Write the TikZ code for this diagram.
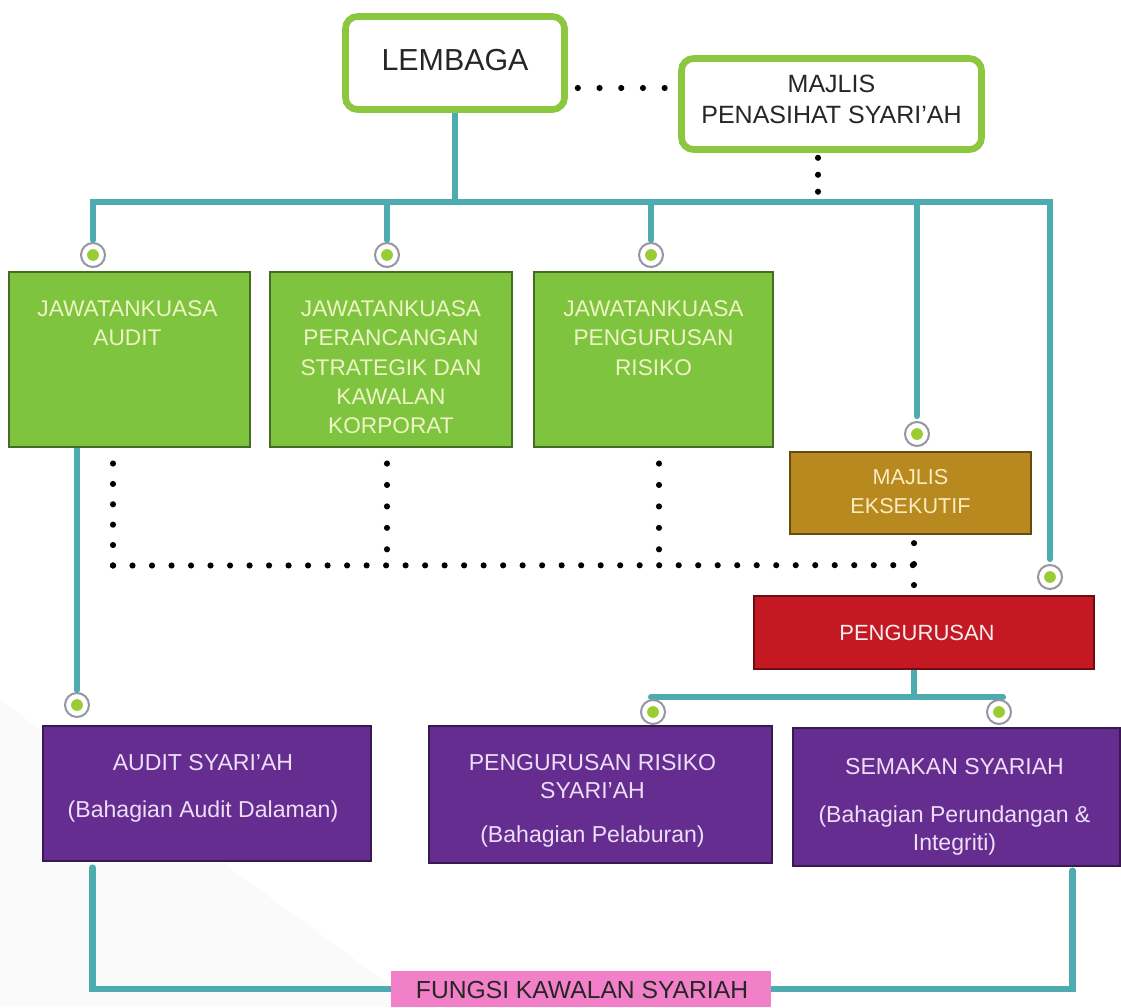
\documentclass[tikz,border=0pt]{standalone}
\usepackage{fontspec}
\setmainfont{Liberation Sans}
\usetikzlibrary{positioning, calc, fit, backgrounds, shadows}

\definecolor{tealline}{RGB}{78,172,176}
\definecolor{limeedge}{RGB}{141,198,63}
\definecolor{boxgreen}{RGB}{127,196,63}
\definecolor{greentext}{RGB}{238,244,196}
\definecolor{goldbox}{RGB}{184,137,30}
\definecolor{goldtext}{RGB}{250,236,190}
\definecolor{redbox}{RGB}{196,24,34}
\definecolor{purplebox}{RGB}{102,45,145}
\definecolor{lavender}{RGB}{236,222,246}
\definecolor{pinkbox}{RGB}{242,128,200}
\definecolor{knobgray}{RGB}{150,150,162}
\definecolor{knobgreen}{RGB}{153,204,51}

\begin{document}
\begin{tikzpicture}[x=0.75pt, y=-0.75pt,
    tline/.style={draw=tealline, line width=4.6pt, line cap=round},
    dotline/.style={line width=4.6pt, line cap=round, dash pattern=on 0pt off #1},
    dotline/.default=14pt,
    topbox/.style={draw=limeedge, line width=5pt, rounded corners=9pt, fill=white, inner sep=0pt,
        drop shadow={opacity=0.18, shadow xshift=1pt, shadow yshift=-1.5pt}},
    flatbox/.style={draw=#1!55!black, line width=0.8pt, fill=#1, inner sep=0pt},
    knob/.style={circle, draw=knobgray, line width=1.5pt, fill=white, minimum size=18pt, inner sep=0pt,
        path picture={\fill[knobgreen] (path picture bounding box.center) circle (4.4pt);}},
    boxtext/.style={inner sep=0pt, align=center}
]
    \useasboundingbox (0,0) rectangle (1121,1007);

    % Board and shariah council
    \node[topbox, fit={(345.5,16.5) (564.5,109.5)}] (lem) {};
    \node[topbox, fit={(681.5,58.5) (981.5,149.5)}] (mps) {};
    \node[boxtext, text=black!85, font=\fontsize{22.8pt}{27pt}\selectfont] (lemt) at ($(lem.center)+(0,-3)$) {LEMBAGA};
    \node[boxtext, text=black!85, font=\fontsize{18.75pt}{23.25pt}\selectfont] (mpst) at ($(mps.center)+(0,-4.5)$) {MAJLIS\\PENASIHAT SYARI'AH};

    % Committees
    \node[flatbox=boxgreen, fit={(9,272) (250,447)}] (jka) {};
    \node[flatbox=boxgreen, fit={(270,272) (512,447)}] (jkp) {};
    \node[flatbox=boxgreen, fit={(534,272) (773,447)}] (jkr) {};
    \node[boxtext, anchor=north, text=greentext, font=\fontsize{17pt}{22pt}\selectfont] (jkat) at ($(jka.north)+(-2,29)$) {JAWATANKUASA\\AUDIT};
    \node[boxtext, anchor=north, text=greentext, font=\fontsize{17pt}{22pt}\selectfont] (jkpt) at ($(jkp.north)+(0,29)$) {JAWATANKUASA\\PERANCANGAN\\STRATEGIK DAN\\KAWALAN\\KORPORAT};
    \node[boxtext, anchor=north, text=greentext, font=\fontsize{17pt}{22pt}\selectfont] (jkrt) at ($(jkr.north)+(0,29)$) {JAWATANKUASA\\PENGURUSAN\\RISIKO};

    % Executive council and management
    \node[flatbox=goldbox, fit={(790,452) (1031,534)}] (mek) {};
    \node[boxtext, text=goldtext, font=\fontsize{16.2pt}{21.75pt}\selectfont] (mekt) at ($(mek.center)+(0,-1.5)$) {MAJLIS\\EKSEKUTIF};
    \node[flatbox=redbox, fit={(754,596) (1094,669)}] (peng) {};
    \node[boxtext, text=white!92!redbox, font=\fontsize{16.5pt}{20pt}\selectfont] (pengt) at ($(peng.center)+(-7,0)$) {PENGURUSAN};

    % Shariah functions
    \node[flatbox=purplebox, fit={(43,726) (371,861)}] (aud) {};
    \node[flatbox=purplebox, fit={(429,726) (772,863)}] (prs) {};
    \node[flatbox=purplebox, fit={(793,728) (1120,866)}] (sem) {};
    \node[boxtext, anchor=north, text=lavender, font=\fontsize{17.3pt}{21pt}\selectfont] (audt) at ($(aud.north)+(-4,28.7)$) {AUDIT SYARI'AH\\[14pt](Bahagian Audit Dalaman)};
    \node[boxtext, anchor=north, text=lavender, font=\fontsize{17.3pt}{21pt}\selectfont] (prst) at ($(prs.north)+(-8,28.7)$) {PENGURUSAN RISIKO\\SYARI'AH\\[12pt](Bahagian Pelaburan)};
    \node[boxtext, anchor=north, text=lavender, font=\fontsize{17.3pt}{21pt}\selectfont] (semt) at ($(sem.north)+(-2,30.7)$) {SEMAKAN SYARIAH\\[15pt](Bahagian Perundangan \&\\Integriti)};

    % Control function
    \node[fill=pinkbox, inner sep=0pt, fit={(391,971) (771,1007)}] (fks) {};
    \node[boxtext, text=black!85, font=\fontsize{18.5pt}{22pt}\selectfont] (fkst) at ($(fks.center)+(1,1)$) {FUNGSI KAWALAN SYARIAH};

    % Junction knobs
    \node[knob] (k1) at (93,255) {};
    \node[knob] (k2) at (387,255) {};
    \node[knob] (k3) at (651,255) {};
    \node[knob] (k4) at (917,434) {};
    \node[knob] (k5) at (1050,577) {};
    \node[knob] (k6) at (77,705) {};
    \node[knob] (k7) at (653,712) {};
    \node[knob] (k8) at (999,712) {};

    \coordinate (busL) at (93,202);
    \coordinate (busR) at (1050,202);
    \coordinate (pb) at (914,697);
    \coordinate (dj) at ($(mek.south)+(3.5,30.6)$);

    \begin{scope}[on background layer]
        \fill[black!2] (0,700) -- (0,1007) -- (420,1007) -- cycle;
        % Reporting lines
        \draw[tline] (lem.south) -- (lem.south |- busL);
        \draw[tline, shorten <=1.5pt, shorten >=3.75pt] (k1) |- (busR) -- (k5);
        \draw[tline, shorten <=1.5pt] (k2) -- (k2 |- busL);
        \draw[tline, shorten <=1.5pt] (k3) -- (k3 |- busL);
        \draw[tline, shorten <=3.75pt] (k4) -- (k4 |- busL);
        \draw[tline, shorten <=1.5pt] (k6) -- (k6 |- jka.south);
        \draw[tline] (pb |- peng.south) -- (pb);
        \draw[tline, shorten <=-1.5pt, shorten >=-3pt] (k7 |- pb) -- (k8 |- pb);
        \draw[tline] ($(aud.south west)+(50,6)$) |- (fks.west);
        \draw[tline] ($(sem.south east)+(-48,4)$) |- (fks.east);
    \end{scope}

    % Dotted links
    \draw[dotline=16.28pt] ($(lem.east)+(10,25)$) -- ($(mps.west |- lem.east)+(-13,25)$);
    \draw[dotline=12.7pt] ($(mps.south)+(-13.5,5)$) -- ++(0,34);
    \draw[dotline=15.28pt] ($(jka.south)+(-16.5,16)$) -- ($(jka.south)+(-16.5,118)$) coordinate (dl);
    \draw[dotline=14.63pt] (dl) -- (dj);
    \draw[dotline=16.08pt] ($(jkp.south)+(-4,16)$) -- ++(0,86);
    \draw[dotline=16.08pt] ($(jkr.south)+(5.5,16)$) -- ++(0,86);
    \draw[dotline=15.72pt] ($(mek.south)+(3.5,8.6)$) -- ++(0,42);
\end{tikzpicture}
\end{document}
